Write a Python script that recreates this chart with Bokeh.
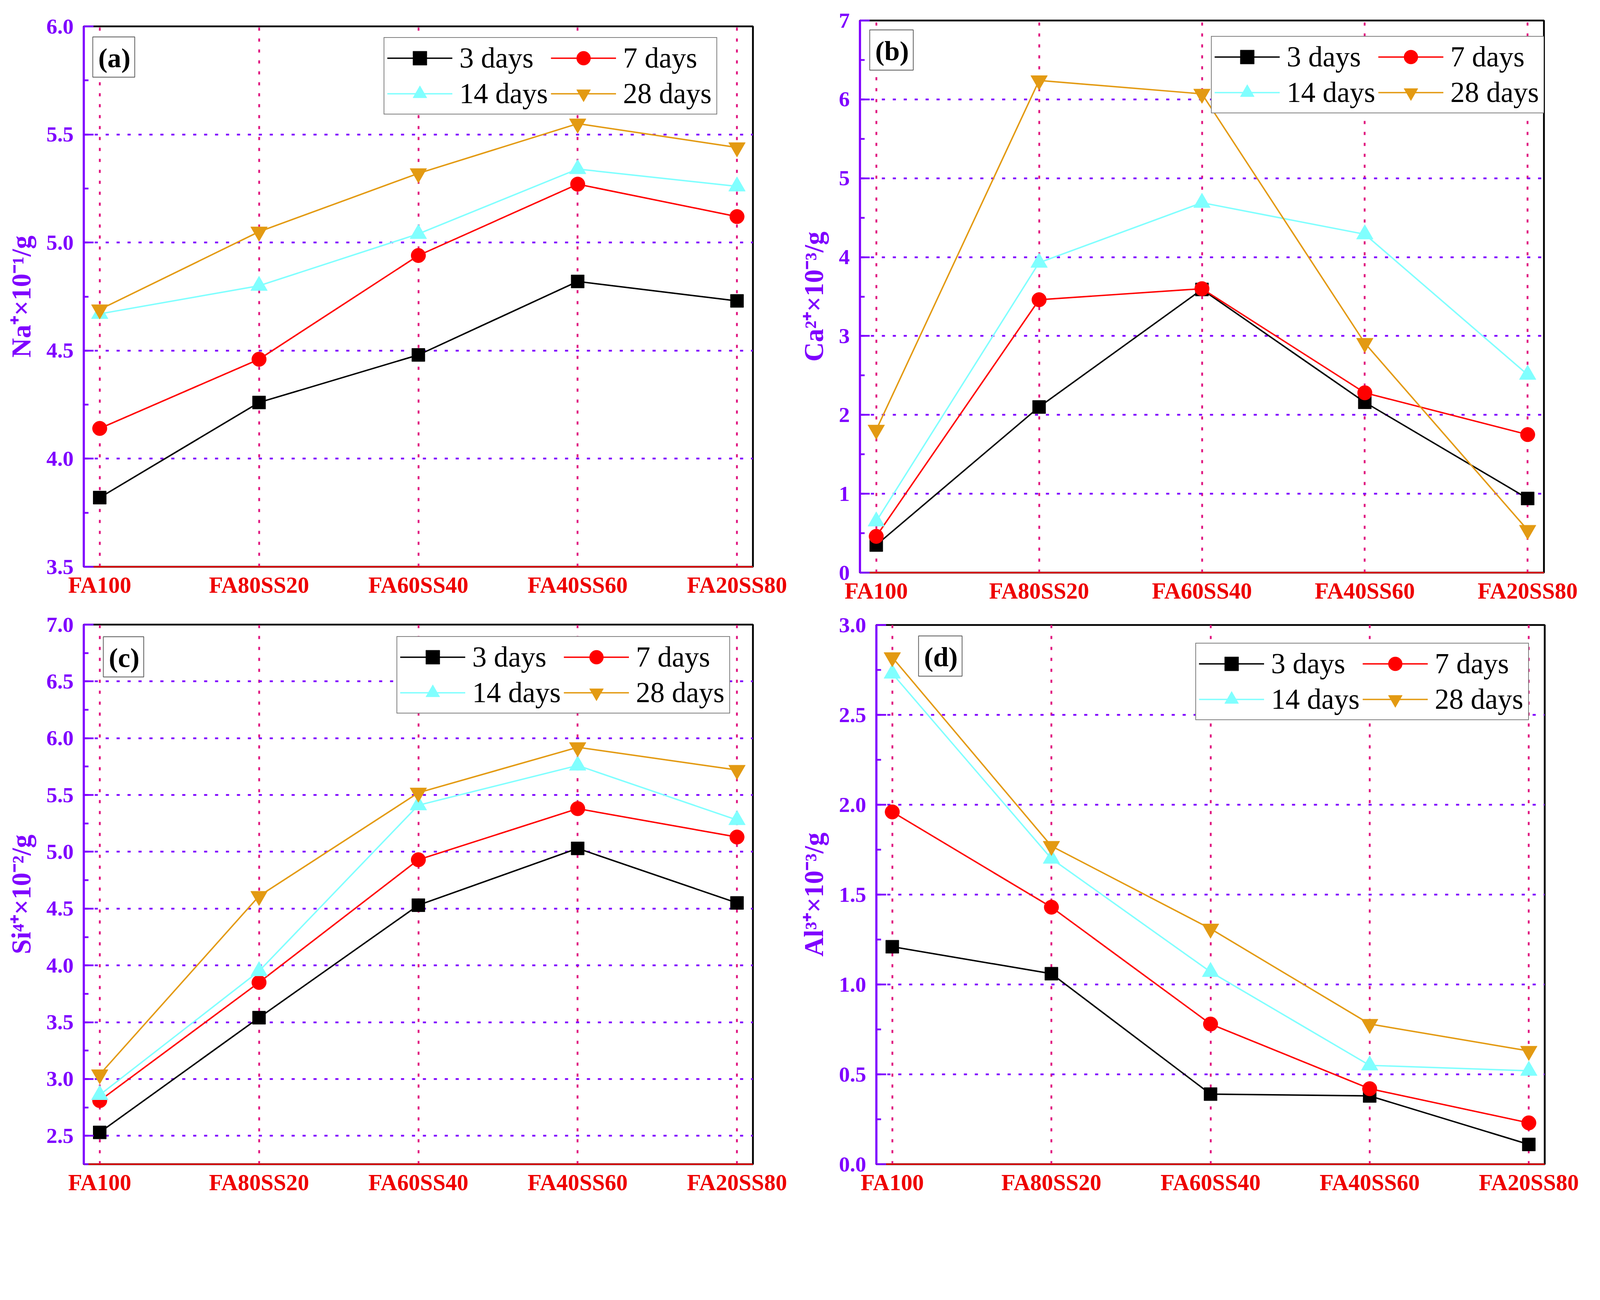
from bokeh.plotting import figure
from bokeh.layouts import column, row
from bokeh.models import (Range1d, FixedTicker, SingleIntervalTicker, NumeralTickFormatter,
                          Legend, LegendItem, Label)
from bokeh.embed import file_html
from bokeh.resources import INLINE

categories = ["FA100", "FA80SS20", "FA60SS40", "FA40SS60", "FA20SS80"]
series_names = ["3 days", "7 days", "14 days", "28 days"]

na_3d = [3.82, 4.26, 4.48, 4.82, 4.73]
na_7d = [4.14, 4.46, 4.94, 5.27, 5.12]
na_14d = [4.67, 4.80, 5.04, 5.34, 5.26]
na_28d = [4.69, 5.05, 5.32, 5.55, 5.44]

ca_3d = [0.35, 2.10, 3.59, 2.16, 0.94]
ca_7d = [0.46, 3.46, 3.60, 2.28, 1.75]
ca_14d = [0.65, 3.93, 4.69, 4.29, 2.51]
ca_28d = [1.81, 6.24, 6.07, 2.91, 0.54]

si_3d = [2.53, 3.54, 4.53, 5.03, 4.55]
si_7d = [2.81, 3.85, 4.93, 5.38, 5.13]
si_14d = [2.86, 3.95, 5.41, 5.76, 5.28]
si_28d = [3.04, 4.61, 5.52, 5.92, 5.72]

al_3d = [1.21, 1.06, 0.39, 0.38, 0.11]
al_7d = [1.96, 1.43, 0.78, 0.42, 0.23]
al_14d = [2.73, 1.70, 1.07, 0.55, 0.52]
al_28d = [2.82, 1.77, 1.31, 0.78, 0.63]

PURPLE = "#7F00FF"
RED = "#EE0000"
PINK = "#E0157F"
COLORS = ["#000000", "#FF0000", "#80FFFF", "#E39A12"]
MARKERS = ["square", "circle", "triangle", "inverted_triangle"]
SIZES = [36, 40, 46, 46]
FONT = "Liberation Serif"

S = 0.93  # page scale so the whole layout fits the window


def px(v):
    return int(round(v * S))


def fs(v):
    return f"{v * S:.1f}px"


def make_panel(tag, ylabel, series, y0, y1, interval, fmt,
               W, H, bl, br, bt, bb, leg_right, leg_top, tag_left, tag_top):
    W, H, bl, br, bt, bb = px(W), px(H), px(bl), px(br), px(bt), px(bb)
    fw = W - bl - br
    fh = H - bt - bb
    x0, x1 = -0.1, 4.1
    p = figure(width=W, height=H, x_range=Range1d(x0, x1), y_range=Range1d(y0, y1),
               output_backend="svg", toolbar_location=None,
               min_border_left=bl, min_border_right=br,
               min_border_top=bt, min_border_bottom=bb)
    p.background_fill_color = "white"
    p.border_fill_color = "white"
    p.outline_line_color = "black"
    p.outline_line_width = 5 * S

    xs = list(range(len(categories)))
    xt = FixedTicker(ticks=xs)
    yt = SingleIntervalTicker(interval=interval, num_minor_ticks=2)

    xa = p.xaxis[0]
    xa.ticker = xt
    xa.major_label_overrides = {i: c for i, c in enumerate(categories)}
    xa.axis_line_color = RED
    xa.axis_line_width = 4 * S
    xa.major_tick_line_color = None
    xa.minor_tick_line_color = None
    xa.major_tick_out = 0
    xa.major_tick_in = 0
    xa.minor_tick_out = 0
    xa.major_label_text_font = FONT
    xa.major_label_text_font_style = "bold"
    xa.major_label_text_font_size = fs(63)
    xa.major_label_text_color = RED
    xa.major_label_standoff = px(15)

    ya = p.yaxis[0]
    ya.ticker = yt
    ya.formatter = NumeralTickFormatter(format=fmt)
    ya.axis_line_color = PURPLE
    ya.axis_line_width = 6 * S
    ya.major_tick_line_color = PURPLE
    ya.major_tick_line_width = 5 * S
    ya.major_tick_in = px(27)
    ya.major_tick_out = 0
    ya.minor_tick_line_color = PURPLE
    ya.minor_tick_line_width = 5 * S
    ya.minor_tick_in = px(13)
    ya.minor_tick_out = 0
    ya.major_label_text_font = FONT
    ya.major_label_text_font_style = "bold"
    ya.major_label_text_font_size = fs(60)
    ya.major_label_text_color = PURPLE
    ya.major_label_standoff = px(28)
    ya.axis_label = ylabel
    ya.axis_label_text_font = FONT
    ya.axis_label_text_font_style = "bold"
    ya.axis_label_text_font_size = fs(74)
    ya.axis_label_text_color = PURPLE
    ya.axis_label_standoff = px(25)

    dash = f"{px(9)} {px(21)}"
    p.xgrid.ticker = xt
    p.xgrid.grid_line_color = PINK
    p.xgrid.grid_line_width = 5 * S
    p.xgrid.grid_line_dash = dash
    p.ygrid.ticker = yt
    p.ygrid.grid_line_color = PURPLE
    p.ygrid.grid_line_width = 5 * S
    p.ygrid.grid_line_dash = dash

    items = []
    for name, vals, col, mk, sz in zip(series_names, series, COLORS, MARKERS, SIZES):
        r1 = p.line(xs, vals, line_color=col, line_width=4 * S)
        r2 = p.scatter(xs, vals, marker=mk, size=sz * S, fill_color=col, line_color=col)
        items.append(LegendItem(label=name, renderers=[r1, r2]))

    gw, gh, lw, ls, sp, pad = px(180), px(96), px(250), px(19), px(2), px(8)
    leg_w = 2 * pad + 2 * (gw + ls + lw) + sp
    leg_h = 2 * pad + 2 * gh + sp
    leg = Legend(items=items,
                 location=(fw - px(leg_right) - leg_w, fh - px(leg_top) - leg_h),
                 orientation="horizontal", ncols=2,
                 label_text_font=FONT, label_text_font_size=fs(79),
                 label_text_color="black",
                 glyph_width=gw, glyph_height=gh, label_height=gh,
                 label_width=lw, label_standoff=ls, spacing=sp,
                 padding=pad, margin=0,
                 border_line_color="black", border_line_width=3 * S,
                 background_fill_color="white", background_fill_alpha=1.0)
    p.add_layout(leg)

    xspan = x1 - x0
    yspan = y1 - y0
    lbl = Label(x=x0 + px(tag_left) * xspan / fw, y=y1 - px(tag_top) * yspan / fh,
                text=tag, text_font=FONT, text_font_style="bold", text_font_size=fs(76),
                text_color="black", text_align="left", text_baseline="top",
                border_line_color="#555555", border_line_width=2 * S,
                background_fill_color="white",
                padding=(px(15), px(12), px(15), px(12)))
    p.add_layout(lbl)
    return p


pa = make_panel("(a)", "Na⁺×10⁻¹/g", [na_3d, na_7d, na_14d, na_28d], 3.5, 6.0, 0.5, "0.0",
                2180, 1672, 230, 107, 72, 113, 102, 34, 25, 29)
pb = make_panel("(b)", "Ca²⁺×10⁻³/g", [ca_3d, ca_7d, ca_14d, ca_28d], 0, 7, 1, "0",
                2204, 1672, 187, 134, 56, 97, 2, 47, 27, 26)
pc = make_panel("(c)", "Si⁴⁺×10⁻²/g", [si_3d, si_7d, si_14d, si_28d], 2.25, 7.0, 0.5, "0.0",
                2180, 1639, 230, 108, 46, 107, 67, 37, 54, 33)
pd = make_panel("(d)", "Al³⁺×10⁻³/g", [al_3d, al_7d, al_14d, al_28d], 0.0, 3.0, 0.5, "0.0",
                2204, 1639, 232, 132, 47, 107, 47, 54, 116, 30)

layout = column(row(column(pa), column(pb)), row(column(pc), column(pd)))
open("out.html", "w").write(file_html(layout, INLINE))
